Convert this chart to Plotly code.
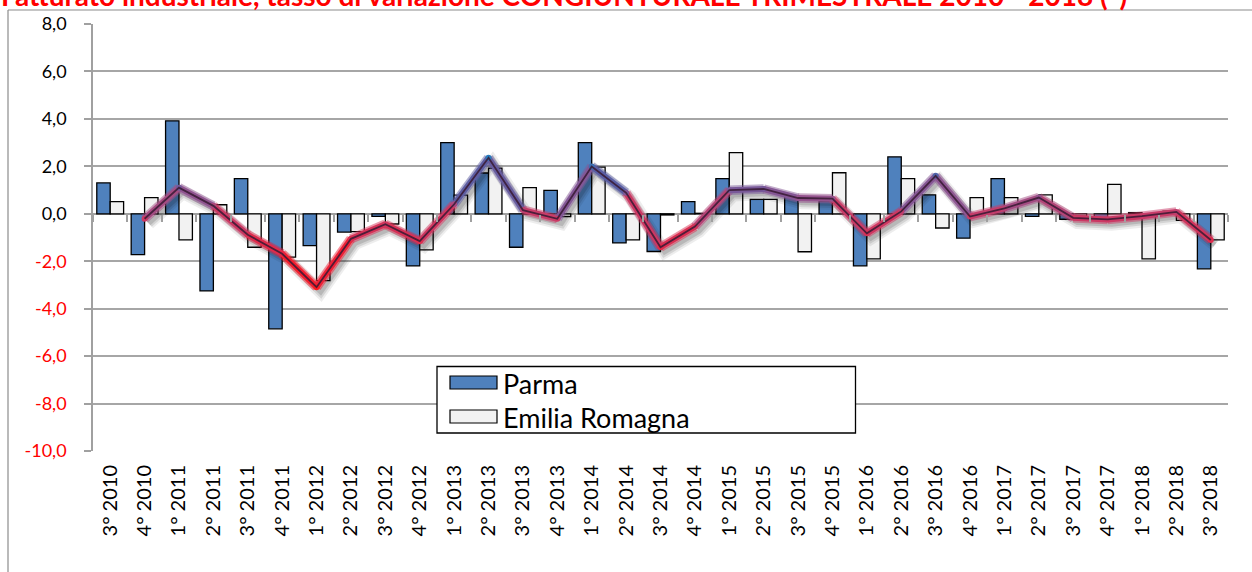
import plotly.graph_objects as go

# ---------------- data ----------------
quarters = ["3° 2010", "4° 2010",
            "1° 2011", "2° 2011", "3° 2011", "4° 2011",
            "1° 2012", "2° 2012", "3° 2012", "4° 2012",
            "1° 2013", "2° 2013", "3° 2013", "4° 2013",
            "1° 2014", "2° 2014", "3° 2014", "4° 2014",
            "1° 2015", "2° 2015", "3° 2015", "4° 2015",
            "1° 2016", "2° 2016", "3° 2016", "4° 2016",
            "1° 2017", "2° 2017", "3° 2017", "4° 2017",
            "1° 2018", "2° 2018", "3° 2018"]

parma = [1.30, -1.72, 3.92, -3.25, 1.48, -4.85, -1.34, -0.77, -0.11, -2.20,
         3.00, 1.72, -1.41, 0.99, 3.00, -1.23, -1.59, 0.51, 1.48, 0.61,
         0.72, 0.55, -2.20, 2.40, 0.80, -1.03, 1.48, -0.11, -0.23, -0.25,
         0.05, 0.11, -2.32]

emilia = [0.51, 0.68, -1.10, 0.38, -1.41, -1.83, -2.82, -0.75, -0.43, -1.52,
          0.79, 1.92, 1.10, -0.12, 1.97, -1.10, -0.05, 0.02, 2.58, 0.61,
          -1.60, 1.73, -1.90, 1.48, -0.60, 0.68, 0.68, 0.80, -0.10, 1.24,
          -1.90, -0.28, -1.10]

y_ticks = [-10, -8, -6, -4, -2, 0, 2, 4, 6, 8]

title_text = "Fatturato industriale, tasso di variazione CONGIUNTURALE TRIMESTRALE 2010 - 2018 (*)"

# 2-period moving average trendline of Parma (as in the source chart)
idx = list(range(len(quarters)))
ma_x = idx[1:]
ma_y = [(parma[i - 1] + parma[i]) / 2 for i in ma_x]

# ---------------- styling helpers ----------------
FONT = "Lato"
L, R, T, B = 93, 24, 24, 121
W, H = 1252, 572
PW, PH = W - L - R, H - T - B


def pxx(px):
    return (px - L) / PW


def pxy(py):
    return (H - B - py) / PH


stops = [(-3.0, (255, 25, 30)), (-1.5, (228, 40, 70)), (0.0, (200, 60, 105)),
         (0.7, (145, 85, 145)), (1.5, (85, 95, 165)), (2.4, (40, 125, 190))]


def col(v, a=1.0):
    if v <= stops[0][0]:
        c = stops[0][1]
    elif v >= stops[-1][0]:
        c = stops[-1][1]
    else:
        for (v0, c0), (v1, c1) in zip(stops[:-1], stops[1:]):
            if v0 <= v <= v1:
                t = (v - v0) / (v1 - v0)
                c = tuple(round(c0[k] + (c1[k] - c0[k]) * t) for k in range(3))
                break
    return f"rgba({c[0]},{c[1]},{c[2]},{a})"


fig = go.Figure()

fig.add_trace(go.Bar(x=idx, y=parma, name="Parma",
                     marker=dict(color="#4F81BD", line=dict(color="black", width=1.3)),
                     showlegend=False))
fig.add_trace(go.Bar(x=idx, y=emilia, name="Emilia Romagna",
                     marker=dict(color="#F2F2F2", line=dict(color="black", width=1.3)),
                     showlegend=False))

# shadow of the trendline
for w, a in [(13, 0.07), (9, 0.10), (5, 0.13)]:
    fig.add_trace(go.Scatter(x=[v + 0.12 for v in ma_x], y=[v - 0.2 for v in ma_y],
                             mode="lines", line=dict(color=f"rgba(0,0,0,{a})", width=w),
                             hoverinfo="skip", showlegend=False))

# coloured glow segments
for i in range(len(ma_x) - 1):
    mid = (ma_y[i] + ma_y[i + 1]) / 2
    fig.add_trace(go.Scatter(x=ma_x[i:i + 2], y=ma_y[i:i + 2], mode="lines",
                             line=dict(color=col(mid, 0.5), width=9.5),
                             hoverinfo="skip", showlegend=False))
for i in range(len(ma_x) - 1):
    mid = (ma_y[i] + ma_y[i + 1]) / 2
    fig.add_trace(go.Scatter(x=ma_x[i:i + 2], y=ma_y[i:i + 2], mode="lines",
                             line=dict(color=col(mid), width=6),
                             hoverinfo="skip", showlegend=False))
fig.add_trace(go.Scatter(x=ma_x, y=ma_y, mode="markers",
                         marker=dict(color=[col(v) for v in ma_y], size=6, line=dict(width=0)),
                         hoverinfo="skip", showlegend=False))
# dark core
fig.add_trace(go.Scatter(x=ma_x, y=ma_y, mode="lines",
                         line=dict(color="rgba(55,25,50,0.85)", width=1.8),
                         hoverinfo="skip", showlegend=False))

ytext = []
for v in y_ticks:
    s = f"{v:.1f}".replace(".", ",")
    ytext.append(f"<span style='color:#FF0000'>{s}</span>" if v < 0 else s)

xr = [-0.5, len(quarters) - 0.5]

fig.update_layout(
    width=W, height=H,
    margin=dict(l=L, r=R, t=T, b=B),
    paper_bgcolor="white", plot_bgcolor="white",
    barmode="group", bargap=0.22, bargroupgap=0.0,
    font=dict(family=FONT, color="black"),
    xaxis=dict(range=xr, tickmode="array", tickvals=idx, ticktext=quarters,
               tickangle=-90, tickfont=dict(size=20, family=FONT, color="black"),
               showgrid=False, zeroline=False, showline=False, ticks="",
               ticklabelstandoff=9),
    xaxis2=dict(range=xr, overlaying="x", anchor="free", position=10 / 18,
                side="bottom", tickmode="array",
                tickvals=[k - 0.5 for k in range(len(quarters) + 1)],
                ticks="outside", ticklen=7, tickcolor="#A0A0A0", tickwidth=1.5,
                showticklabels=False, showgrid=False, zeroline=False, showline=False),
    yaxis=dict(range=[-10, 8], tickmode="array", tickvals=y_ticks, ticktext=ytext,
               tickfont=dict(size=18, family=FONT, color="black"),
               showgrid=True, gridcolor="#A6A6A6", gridwidth=1.5,
               zeroline=True, zerolinecolor="#A0A0A0", zerolinewidth=2,
               showline=True, linecolor="#A0A0A0", linewidth=1.5,
               ticks="outside", ticklen=7, tickcolor="#A0A0A0", tickwidth=1.5,
               ticklabelstandoff=14),
)
# dummy trace so xaxis2 is drawn
fig.add_trace(go.Scatter(x=[0], y=[None], xaxis="x2", mode="markers",
                         showlegend=False, hoverinfo="skip"))

shapes = [
    # outer chart frame
    dict(type="line", xref="paper", yref="paper", x0=pxx(8), y0=pxy(10), x1=pxx(1260), y1=pxy(10),
         line=dict(color="#8C8C8C", width=1.2)),
    dict(type="line", xref="paper", yref="paper", x0=pxx(8), y0=pxy(10), x1=pxx(8), y1=pxy(580),
         line=dict(color="#8C8C8C", width=1.2)),
    # legend box
    dict(type="rect", xref="paper", yref="paper", x0=pxx(437), y0=pxy(433), x1=pxx(855.5), y1=pxy(366.5),
         fillcolor="white", line=dict(color="black", width=1.3), layer="above"),
    dict(type="rect", xref="paper", yref="paper", x0=pxx(450), y0=pxy(389), x1=pxx(497), y1=pxy(376),
         fillcolor="#4F81BD", line=dict(color="black", width=1.2), layer="above"),
    dict(type="rect", xref="paper", yref="paper", x0=pxx(450), y0=pxy(423), x1=pxx(497), y1=pxy(410),
         fillcolor="#F2F2F2", line=dict(color="black", width=1.2), layer="above"),
]
fig.update_layout(shapes=shapes)

annotations = [
    dict(text="Parma", xref="paper", yref="paper", x=pxx(501), y=pxy(383),
         xanchor="left", yanchor="middle", showarrow=False,
         font=dict(size=27, family=FONT, color="black")),
    dict(text="Emilia Romagna", xref="paper", yref="paper", x=pxx(501), y=pxy(417),
         xanchor="left", yanchor="middle", showarrow=False,
         font=dict(size=27, family=FONT, color="black")),
    dict(text=f"<b>{title_text}</b>", xref="paper", yref="paper", x=pxx(-1), y=pxy(14),
         xanchor="left", yanchor="bottom", showarrow=False,
         font=dict(size=28, family=FONT, color="#FF0000")),
]
fig.update_layout(annotations=annotations)

fig.write_html("out.html", config={"displayModeBar": False},
               post_script="document.body.style.margin='0px';document.body.style.overflow='hidden';")
